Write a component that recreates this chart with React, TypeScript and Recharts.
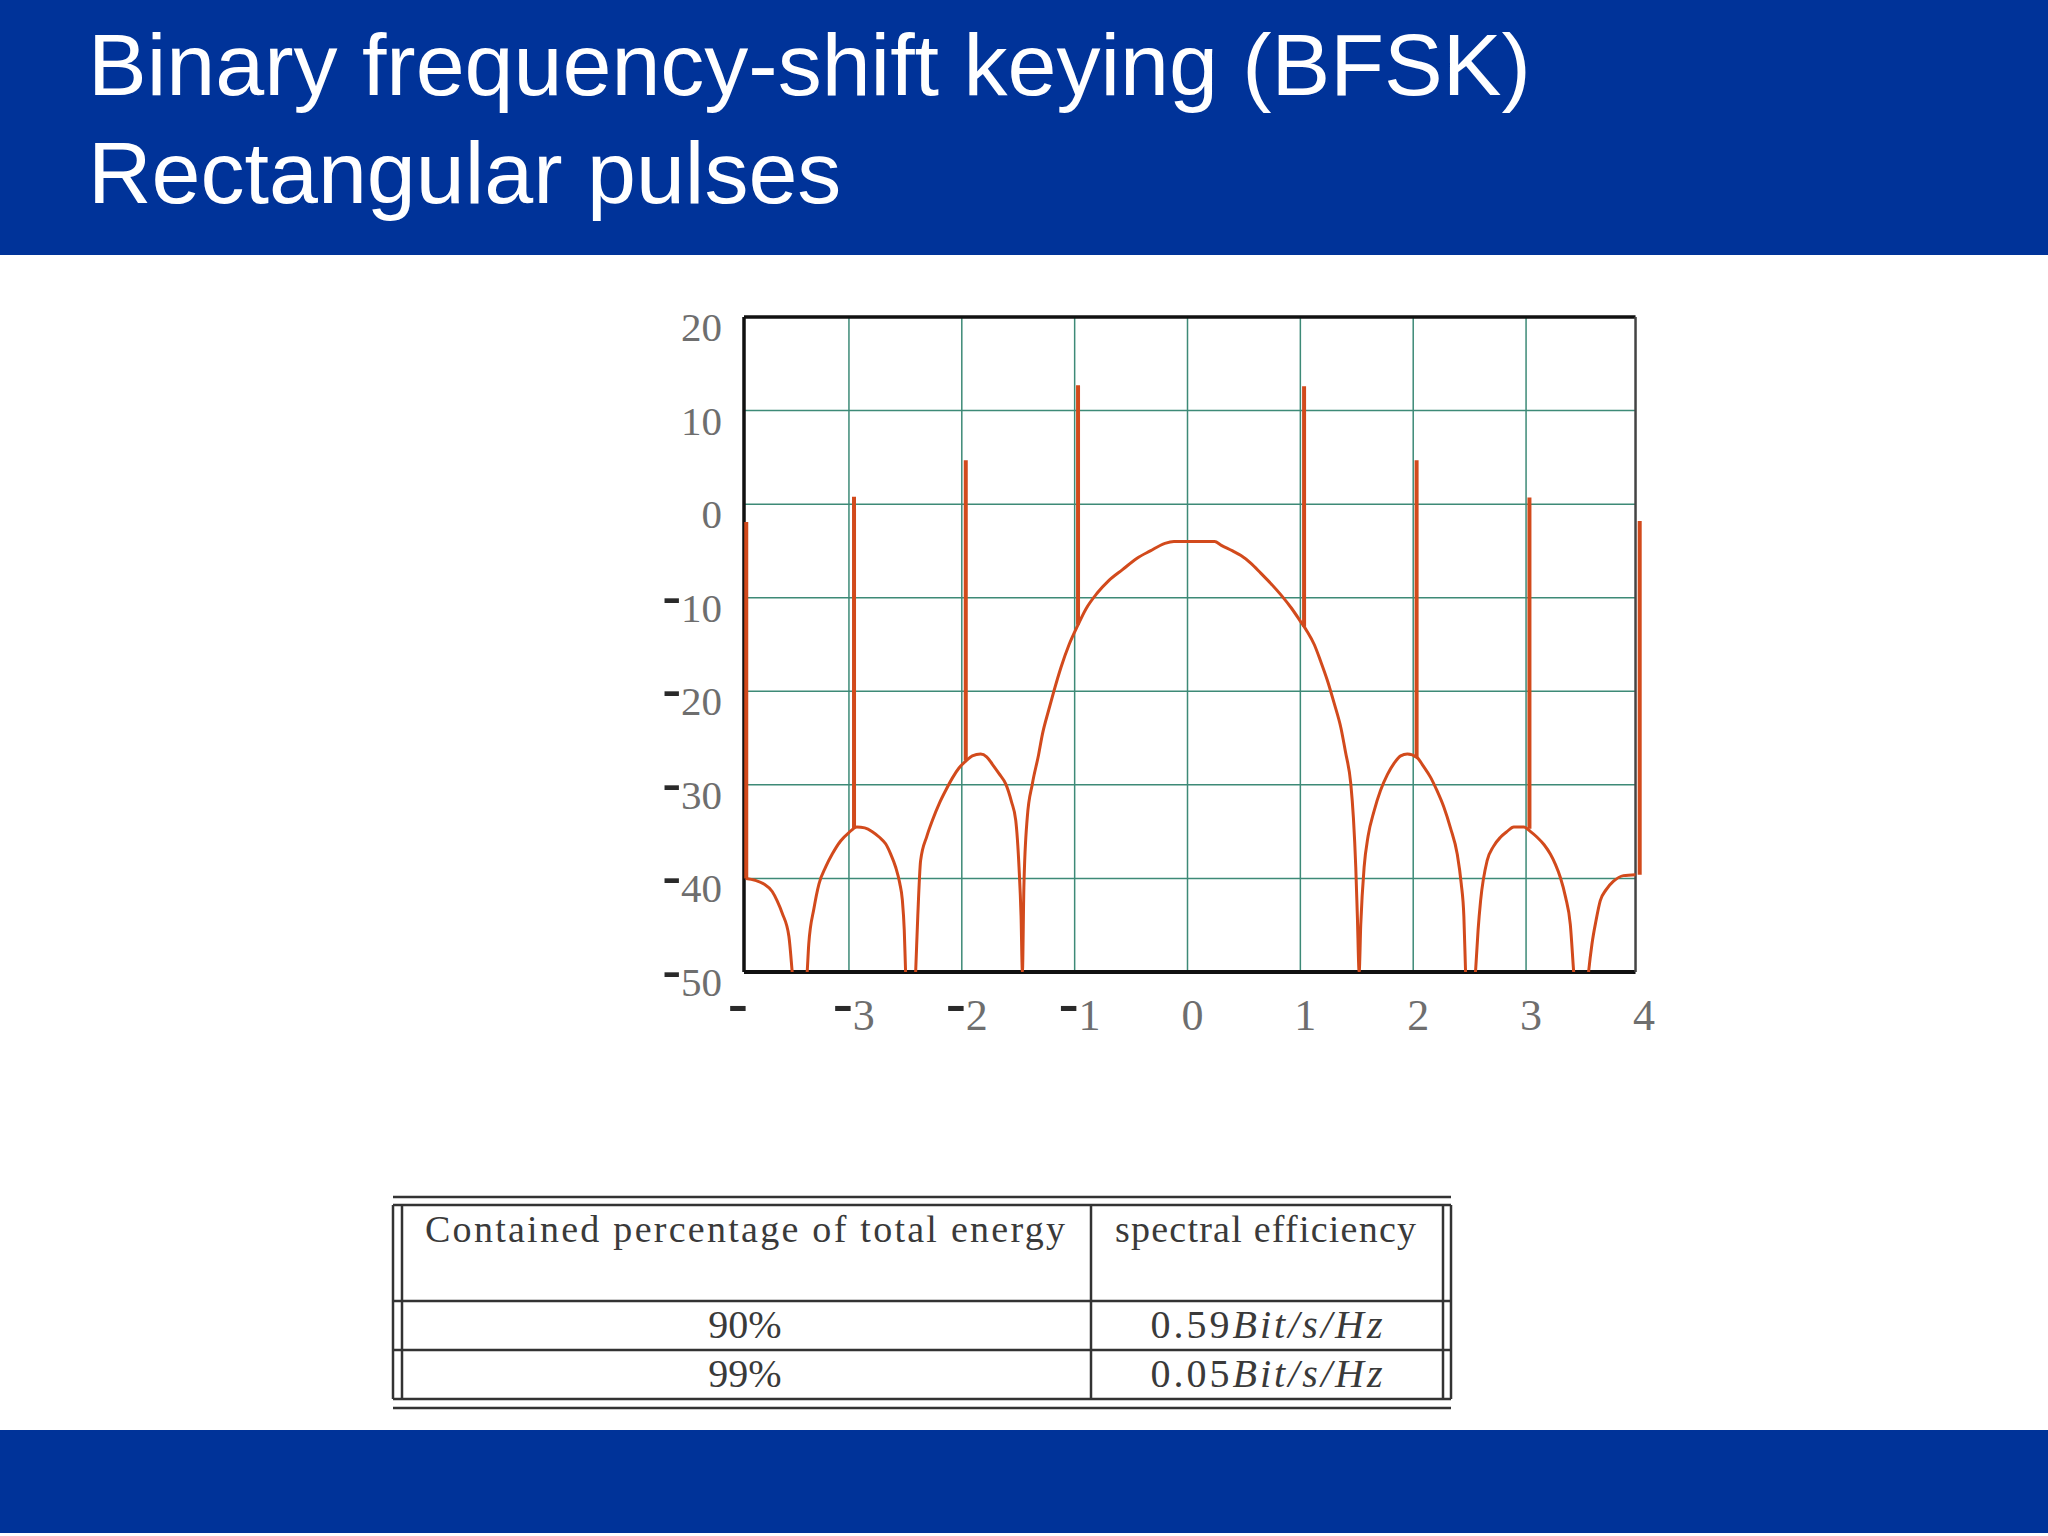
import React from 'react';
import { LineChart, Line, XAxis, YAxis, ReferenceLine } from 'recharts';

const titleLines = ['Binary frequency-shift keying (BFSK)', 'Rectangular pulses'];

// continuous part of the power spectrum, dB over normalised frequency f*T
const freq = [
  -3.915, -3.83, -3.754, -3.68, -3.636, -3.592, -3.532, -3.503, -3.44, -3.37,
  -3.356, -3.31, -3.266, -3.207, -3.148, -3.074, -3.0, -2.93, -2.86, -2.793,
  -2.73, -2.675, -2.63, -2.586, -2.55, -2.527, -2.51, -2.498, -2.45, -2.409,
  -2.39, -2.365, -2.31, -2.261, -2.2, -2.143, -2.08, -2.025, -1.96, -1.907,
  -1.833, -1.78, -1.729, -1.67, -1.611, -1.56, -1.522, -1.493, -1.475, -1.463,
  -1.45, -1.42, -1.375, -1.32, -1.286, -1.23, -1.182, -1.12, -1.049, -0.97,
  -0.9, -0.8, -0.7, -0.576, -0.45, -0.33, -0.2, -0.12, 0, 0.12,
  0.24, 0.3, 0.4, 0.474, 0.56, 0.651, 0.74, 0.828, 0.92, 1.005,
  1.06, 1.123, 1.18, 1.241, 1.3, 1.359, 1.4, 1.447, 1.47, 1.491,
  1.505, 1.521, 1.535, 1.565, 1.6, 1.653, 1.71, 1.771, 1.83, 1.889,
  1.948, 2.036, 2.09, 2.154, 2.21, 2.272, 2.33, 2.39, 2.425, 2.449,
  2.464, 2.51, 2.552, 2.575, 2.597, 2.655, 2.71, 2.773, 2.83, 2.891,
  2.98, 3.04, 3.098, 3.16, 3.215, 3.26, 3.304, 3.35, 3.392, 3.422,
  3.49, 3.554, 3.584, 3.62, 3.657, 3.71, 3.775, 3.863, 3.97,
];
const psdDb = [
  -40.0, -40.2, -40.6, -41.4, -42.4, -43.7, -46.2, -50.0, -60, -50.0,
  -47.0, -43.2, -40.6, -38.8, -37.4, -36.0, -35.1, -34.5, -34.6, -35.0,
  -35.6, -36.3, -37.4, -38.8, -40.5, -42.3, -45.5, -50.0, -60, -50.0,
  -44.0, -38.1, -35.5, -33.8, -32.0, -30.6, -29.2, -28.2, -27.4, -26.9,
  -26.7, -27.0, -27.8, -28.8, -29.9, -31.8, -33.8, -38.8, -44.0, -50.0,
  -41.0, -33.5, -29.9, -26.8, -24.6, -22.0, -19.9, -17.4, -15.0, -12.9,
  -11.2, -9.5, -8.2, -7.0, -5.8, -5.0, -4.2, -4.0, -4.0, -4.0,
  -4.0, -4.4, -5.0, -5.5, -6.3, -7.4, -8.5, -9.7, -11.1, -12.6,
  -13.6, -15.0, -16.8, -18.9, -21.3, -23.9, -26.5, -29.9, -33.5, -38.8,
  -44.0, -50.0, -45.0, -38.8, -35.5, -32.8, -30.6, -28.9, -27.7, -26.9,
  -26.7, -27.1, -28.0, -29.2, -30.6, -32.4, -34.6, -37.4, -40.5, -44.1,
  -50.0, -60, -50.0, -45.5, -42.4, -38.1, -36.6, -35.6, -35.0, -34.5,
  -34.5, -35.0, -35.6, -36.4, -37.4, -38.5, -39.9, -42.0, -44.9, -50.0,
  -60, -50.0, -47.0, -44.5, -42.4, -41.2, -40.3, -39.7, -39.6,
];

// discrete spectral lines
const lineFreq = [-3.91, -2.955, -1.965, -0.97, 1.033, 2.03, 3.03, 4.007];
const lineBaseDb = [-40.0, -34.6, -27.4, -12.9, -13.1, -27.1, -34.7, -39.6];
const linePeakDb = [-1.9, 0.8, 4.7, 12.7, 12.6, 4.7, 0.7, -1.8];

const xTicks = [-3.93, -3, -2, -1, 0, 1, 2, 3, 4];
const xTickLabels = ['-', '-3', '-2', '-1', '0', '1', '2', '3', '4'];
const yTicks = [20, 10, 0, -10, -20, -30, -40, -50];
const xGrid = [-3, -2, -1, 0, 1, 2, 3];
const yGrid = [10, 0, -10, -20, -30, -40];
const frameX = [-3.93, 3.97];
const frameY = [-50, 20];

const tableHead = ['Contained percentage of total energy', 'spectral efficiency'];
const energyShare = ['90%', '99%'];
const efficiency = ['0.59', '0.05'];
const efficiencyUnit = 'Bit/s/Hz';

const curveData = freq.map((f, i) => ({ f, db: psdDb[i] }));
const spikeData = lineFreq.flatMap((f, i) => [
  { f, db: lineBaseDb[i] },
  { f, db: linePeakDb[i] },
  { f, db: null },
]);

const BLUE = '#003399';
const ORANGE = '#d24a1c';
const GRID = '#3d8a77';
const serif = "'Liberation Serif', 'Times New Roman', serif";

// Mathcad style labels: a short heavy minus sitting high before the digits
const TickText = ({ x, y, label, anchor, size }: any) => {
  const neg = label.startsWith('-');
  const digits = neg ? label.slice(1) : label;
  return (
    <text x={x} y={y} textAnchor={anchor} fontFamily={serif} fontSize={size} fill="#6e6e6e">
      {neg && (
        <tspan dy={-8} fill="#2a2a2a" fontWeight="bold" fontSize={size * 1.35}>
          -
        </tspan>
      )}
      {digits && <tspan dy={neg ? 8 : 0}>{digits}</tspan>}
    </text>
  );
};

const XTick = (props: any) => {
  const { x, y, payload } = props;
  const idx = xTicks.indexOf(payload.value);
  const label = xTickLabels[idx] ?? String(payload.value);
  const dx = label === '-' ? -6 : 5;
  return <TickText x={x + dx} y={y + 58} label={label} anchor="middle" size={44} />;
};

const YTick = (props: any) => {
  const { x, y, payload } = props;
  return <TickText x={x} y={y + 24} label={String(payload.value)} anchor="end" size={41} />;
};

const EnergyTable = () => {
  const left = 393;
  const right = 1451;
  const hRules = [1197, 1205, 1301, 1350, 1399, 1408];
  const vRules = [393, 402, 1091, 1443, 1451];
  const rowBase = [1338, 1387];
  return (
    <g stroke="#333" strokeWidth={2.5}>
      {hRules.map((y) => (
        <line key={'h' + y} x1={left} x2={right} y1={y} y2={y} />
      ))}
      {vRules.map((x) => (
        <line key={'v' + x} x1={x} x2={x} y1={1205} y2={1399} />
      ))}
      <g stroke="none" fill="#3a3a3a" fontFamily={serif} fontSize={38}>
        <text x={425} y={1242} textLength={640} lengthAdjust="spacing">
          {tableHead[0]}
        </text>
        <text x={1115} y={1242} textLength={301} lengthAdjust="spacing">
          {tableHead[1]}
        </text>
        {energyShare.map((s, i) => (
          <text key={s} x={745} y={rowBase[i]} textAnchor="middle" fontSize={40}>
            {s}
          </text>
        ))}
        {efficiency.map((v, i) => (
          <text key={v} x={1268} y={rowBase[i]} textAnchor="middle" fontSize={40} letterSpacing={3}>
            <tspan>{v}</tspan>
            <tspan fontStyle="italic">{efficiencyUnit}</tspan>
          </text>
        ))}
      </g>
    </g>
  );
};

export default function App() {
  return (
    <div style={{ position: 'fixed', left: 0, top: 0, width: 2048, height: 1536, background: '#fff', overflow: 'hidden' }}>
      <svg width={2048} height={1536} style={{ position: 'absolute', left: 0, top: 0 }}>
        <rect x={0} y={0} width={2048} height={255} fill={BLUE} />
        <rect x={0} y={1430} width={2048} height={103} fill={BLUE} />
        {titleLines.map((t, i) => (
          <text
            key={t}
            x={88}
            y={95 + i * 108}
            fill="#fff"
            fontFamily="'Liberation Sans', Arial, sans-serif"
            fontSize={88}
          >
            {t}
          </text>
        ))}
        <EnergyTable />
      </svg>
      <div style={{ position: 'absolute', left: 600, top: 270 }}>
        <LineChart width={1100} height={820} margin={{ top: 47, right: 57.7, bottom: 48, left: 64 }}>
          <XAxis
            type="number"
            dataKey="f"
            domain={[-3.93, 4.03]}
            allowDataOverflow
            ticks={xTicks}
            interval={0}
            axisLine={false}
            tickLine={false}
            tickSize={0}
            tickMargin={0}
            height={70}
            tick={<XTick />}
          />
          <YAxis
            type="number"
            domain={[-50, 20]}
            allowDataOverflow
            ticks={yTicks}
            interval={0}
            axisLine={false}
            tickLine={false}
            tickSize={0}
            tickMargin={22}
            width={80}
            tick={<YTick />}
          />
          {xGrid.map((g) => (
            <ReferenceLine key={'gx' + g} x={g} stroke={GRID} strokeWidth={1.5} />
          ))}
          {yGrid.map((g) => (
            <ReferenceLine
              key={'gy' + g}
              segment={[{ x: frameX[0], y: g }, { x: frameX[1], y: g }]}
              stroke={GRID}
              strokeWidth={1.5}
            />
          ))}
          <ReferenceLine segment={[{ x: frameX[0], y: frameY[1] }, { x: frameX[1], y: frameY[1] }]} stroke="#111" strokeWidth={3.5} />
          <ReferenceLine segment={[{ x: frameX[0], y: frameY[0] }, { x: frameX[1], y: frameY[0] }]} stroke="#111" strokeWidth={4} />
          <ReferenceLine segment={[{ x: frameX[0], y: frameY[0] }, { x: frameX[0], y: frameY[1] }]} stroke="#111" strokeWidth={3.5} />
          <ReferenceLine segment={[{ x: frameX[1], y: frameY[0] }, { x: frameX[1], y: frameY[1] }]} stroke="#444" strokeWidth={2.5} />
          <Line
            data={curveData}
            dataKey="db"
            type="monotone"
            stroke={ORANGE}
            strokeWidth={3}
            dot={false}
            activeDot={false}
            isAnimationActive={false}
          />
          <Line
            data={spikeData}
            dataKey="db"
            type="linear"
            stroke={ORANGE}
            strokeWidth={4}
            strokeLinecap="butt"
            connectNulls={false}
            dot={false}
            activeDot={false}
            isAnimationActive={false}
          />
        </LineChart>
      </div>
    </div>
  );
}
